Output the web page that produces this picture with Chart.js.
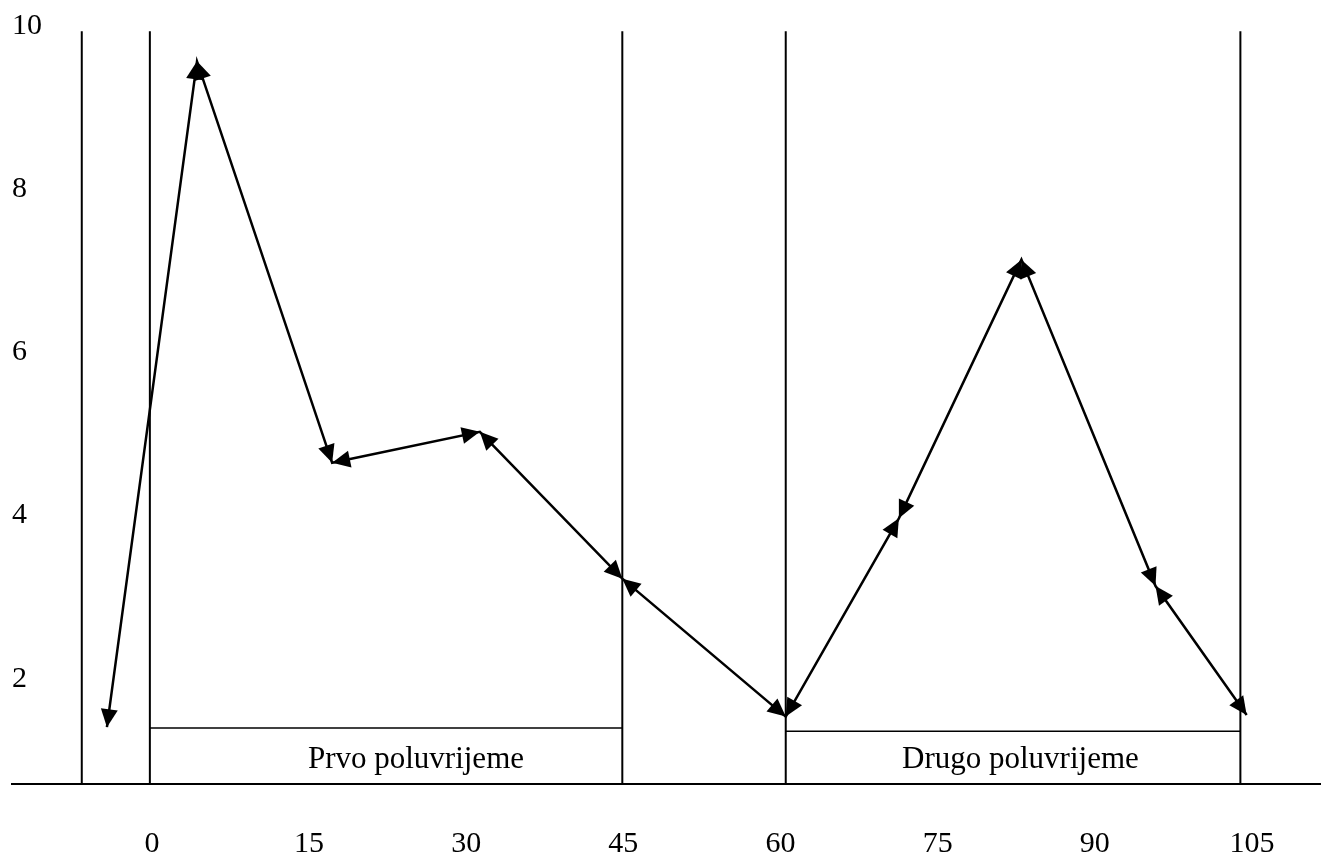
<!DOCTYPE html>
<html>
<head>
<meta charset="utf-8">
<script src="https://cdn.jsdelivr.net/npm/chart.js@4"></script>
<style>
  html, body { margin: 0; padding: 0; background: #ffffff; }
  canvas { display: block; }
</style>
</head>
<body>
<canvas id="c" width="1324" height="861"></canvas>
<script>
// ---- data ----
const xTicks = [0, 15, 30, 45, 60, 75, 90, 105];
const yTicks = [2, 4, 6, 8, 10];
const minuteX = [-4.3, 4.3, 17.2, 31.3, 44.9, 60.5, 71.3, 83.0, 95.8, 104.5];
const valueY  = [1.37, 9.53, 4.61, 4.99, 3.19, 1.50, 3.93, 7.10, 3.10, 1.52];
const dividerX = [-6.7, -0.2, 44.9, 60.5, 103.9];
const dividerTop = 9.9;
const halfNames = ['Prvo poluvrijeme', 'Drugo poluvrijeme'];
const halfStart = [-0.2, 60.5];
const halfEnd = [44.9, 103.9];
const bracketY = [1.36, 1.32];
const halfLabelX = [25.2, 82.9];
const halfLabelY = [0.97, 0.97];

const X_MIN = -13.36, X_MAX = 111.5, Y_MIN = 0.674, Y_MAX = 10;

Chart.defaults.font.family = "'Liberation Serif', 'Times New Roman', serif";
Chart.defaults.color = '#000';

const datasets = [];
datasets.push({
  data: minuteX.map((x, i) => ({ x: x, y: valueY[i] })),
  showLine: true, borderColor: '#000', borderWidth: 2.5, pointRadius: 0, tension: 0, clip: false
});
dividerX.forEach(x => {
  datasets.push({
    data: [{ x: x, y: dividerTop }, { x: x, y: Y_MIN }],
    showLine: true, borderColor: '#000', borderWidth: 2, pointRadius: 0, clip: false
  });
});
halfStart.forEach((s, i) => {
  datasets.push({
    data: [{ x: s, y: bracketY[i] }, { x: halfEnd[i], y: bracketY[i] }],
    showLine: true, borderColor: '#000', borderWidth: 1.5, pointRadius: 0, clip: false
  });
});

const arrowPlugin = {
  id: 'arrowheads',
  afterDatasetsDraw(chart) {
    const pts = chart.getDatasetMeta(0).data;
    const ctx = chart.ctx;
    const L = 18, W = 8.5;
    function head(tip, from) {
      const dx = tip.x - from.x, dy = tip.y - from.y;
      const len = Math.hypot(dx, dy);
      const ux = dx / len, uy = dy / len;
      const bx = tip.x - ux * L, by = tip.y - uy * L;
      ctx.beginPath();
      ctx.moveTo(tip.x, tip.y);
      ctx.lineTo(bx - uy * W, by + ux * W);
      ctx.lineTo(bx + uy * W, by - ux * W);
      ctx.closePath();
      ctx.fill();
    }
    ctx.save();
    ctx.fillStyle = '#000';
    for (let i = 0; i < pts.length - 1; i++) {
      head(pts[i + 1], pts[i]);
      head(pts[i], pts[i + 1]);
    }
    ctx.restore();
  }
};

const labelPlugin = {
  id: 'halfLabels',
  afterDatasetsDraw(chart) {
    const ctx = chart.ctx;
    const xs = chart.scales.x, ys = chart.scales.y;
    ctx.save();
    ctx.fillStyle = '#000';
    ctx.font = "31px 'Liberation Serif', 'Times New Roman', serif";
    ctx.textAlign = 'center';
    ctx.textBaseline = 'middle';
    halfNames.forEach((t, i) => {
      ctx.fillText(t, xs.getPixelForValue(halfLabelX[i]), ys.getPixelForValue(halfLabelY[i]));
    });
    ctx.restore();
  }
};

new Chart(document.getElementById('c'), {
  type: 'scatter',
  data: { datasets: datasets },
  plugins: [arrowPlugin, labelPlugin],
  options: {
    responsive: false,
    animation: false,
    layout: { padding: { left: 12, right: 4, top: 23, bottom: 0 } },
    plugins: { legend: { display: false }, tooltip: { enabled: false } },
    scales: {
      x: {
        type: 'linear', position: 'bottom', min: X_MIN, max: X_MAX,
        grid: { display: false, drawTicks: false },
        border: { display: true, color: '#000', width: 2 },
        afterBuildTicks: (axis) => { axis.ticks = xTicks.map(v => ({ value: v })); },
        afterFit: (axis) => { axis.height = 77; },
        ticks: { autoSkip: false, maxRotation: 0, padding: 42, font: { size: 30 }, color: '#000' }
      },
      y: {
        type: 'linear', position: 'left', min: Y_MIN, max: Y_MAX,
        grid: { display: false, drawTicks: false },
        border: { display: false },
        afterBuildTicks: (axis) => { axis.ticks = yTicks.map(v => ({ value: v })); },
        afterFit: (axis) => { axis.width = 0; },
        ticks: { mirror: true, padding: 0, labelOffset: 3, autoSkip: false, font: { size: 30 }, color: '#000' }
      }
    }
  }
});
</script>
</body>
</html>
